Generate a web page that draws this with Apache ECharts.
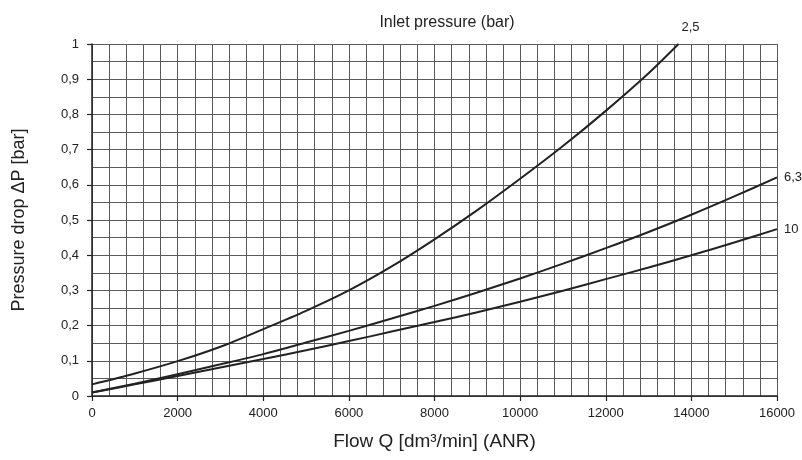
<!DOCTYPE html>
<html>
<head>
<meta charset="utf-8">
<script src="https://cdn.jsdelivr.net/npm/echarts@6/dist/echarts.min.js"></script>
<style>html,body{margin:0;padding:0;background:#fff}#c{width:802px;height:460px}</style>
</head>
<body>
<div id="c"></div>
<script>
// Data
var flow25 = [0, 1000, 2000, 3000, 4000, 5000, 6000, 7000, 8000, 9000, 10000, 11000, 12000, 13000, 13700];
var dp25   = [0.033, 0.064, 0.099, 0.14, 0.19, 0.242, 0.30, 0.368, 0.445, 0.528, 0.617, 0.71, 0.81, 0.917, 1.0];
var flowHi = [0, 1000, 2000, 3000, 4000, 5000, 6000, 7000, 8000, 9000, 10000, 11000, 12000, 13000, 14000, 15000, 16000];
var dp63   = [0.01, 0.035, 0.062, 0.09, 0.119, 0.152, 0.185, 0.22, 0.256, 0.294, 0.334, 0.376, 0.42, 0.466, 0.515, 0.567, 0.621];
var dp10   = [0.01, 0.033, 0.057, 0.081, 0.105, 0.13, 0.156, 0.183, 0.21, 0.238, 0.268, 0.299, 0.332, 0.365, 0.40, 0.436, 0.474];
var seriesNames = ['2,5', '6,3', '10'];
var titleText = 'Inlet pressure (bar)';
var xName = 'Flow Q [dm\u00b3/min] (ANR)';
var yName = 'Pressure drop \u0394P [bar]';

function zip(xs, ys) { return xs.map(function (x, i) { return [x, ys[i]]; }); }

var font = 'Liberation Sans, Arial, Helvetica, sans-serif';
var gridColor = '#5a5a5a';
var lineStyle = { color: '#222', width: 2 };

var chart = echarts.init(document.getElementById('c'), null, { renderer: 'canvas' });
chart.setOption({
  animation: false,
  backgroundColor: '#fff',
  title: {
    text: titleText, left: 442, top: 10, textAlign: 'center',
    textStyle: { fontFamily: font, fontSize: 16, fontWeight: 'normal', color: '#222' }
  },
  grid: { left: 92, right: 25, top: 44, bottom: 64, show: false, containLabel: false, outerBoundsMode: 'none' },
  xAxis: {
    type: 'value', min: 0, max: 16000, interval: 2000,
    name: xName, nameLocation: 'middle', nameGap: 36,
    nameTextStyle: { fontFamily: font, fontSize: 19, color: '#222' },
    axisLine: { show: true, onZero: false, lineStyle: { color: '#222', width: 1.5 } },
    axisTick: { show: true, inside: false, length: 5, lineStyle: { color: '#222', width: 1.2 } },
    axisLabel: { fontFamily: font, fontSize: 13, color: '#222', margin: 11,
      formatter: function (v) { return String(v); } },
    splitLine: { show: true, lineStyle: { color: gridColor, width: 1 } },
    minorTick: { show: false, splitNumber: 5 },
    minorSplitLine: { show: true, lineStyle: { color: gridColor, width: 1 } }
  },
  yAxis: {
    type: 'value', min: 0, max: 1, interval: 0.1,
    name: yName, nameLocation: 'middle', nameGap: 64, nameRotate: 90,
    nameTextStyle: { fontFamily: font, fontSize: 18, color: '#222' },
    axisLine: { show: true, onZero: false, lineStyle: { color: '#222', width: 1.5 } },
    axisTick: { show: true, inside: false, length: 5, lineStyle: { color: '#222', width: 1.2 } },
    axisLabel: {
      fontFamily: font, fontSize: 13, color: '#222', margin: 13,
      formatter: function (v) {
        var r = Math.round(v * 10) / 10;
        if (r === 0) return '0';
        if (r === 1) return '1';
        return r.toFixed(1).replace('.', ',');
      }
    },
    splitLine: { show: true, lineStyle: { color: gridColor, width: 1 } },
    minorTick: { show: false, splitNumber: 2 },
    minorSplitLine: { show: true, lineStyle: { color: gridColor, width: 1 } }
  },
  series: [
    {
      name: seriesNames[0], type: 'line', data: zip(flow25, dp25), smooth: 0.3,
      showSymbol: false, lineStyle: lineStyle, z: 5,
      endLabel: { show: true, formatter: seriesNames[0], fontFamily: font, fontSize: 13, color: '#222', distance: 3, offset: [0, -17] }
    },
    {
      name: seriesNames[1], type: 'line', data: zip(flowHi, dp63), smooth: 0.3,
      showSymbol: false, lineStyle: lineStyle, z: 5,
      endLabel: { show: true, formatter: seriesNames[1], fontFamily: font, fontSize: 13, color: '#222', distance: 7 }
    },
    {
      name: seriesNames[2], type: 'line', data: zip(flowHi, dp10), smooth: 0.3,
      showSymbol: false, lineStyle: lineStyle, z: 5,
      endLabel: { show: true, formatter: seriesNames[2], fontFamily: font, fontSize: 13, color: '#222', distance: 7 }
    }
  ]
});
</script>
</body>
</html>
